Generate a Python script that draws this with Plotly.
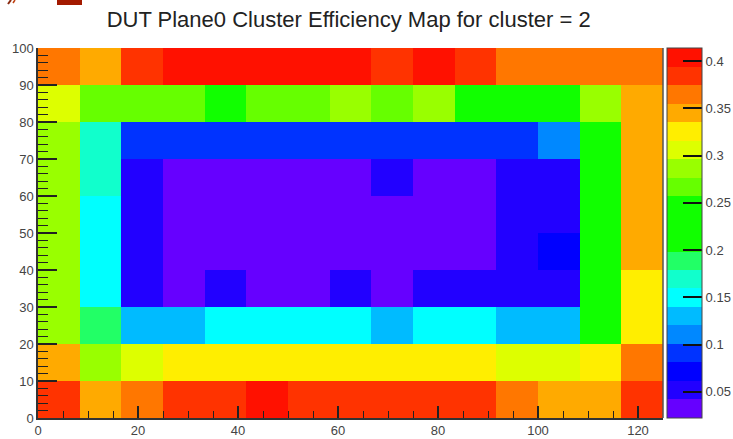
import numpy as np
import plotly.graph_objects as go

# Histogram binning
x_min, x_max, n_xbins = 0.0, 125.0, 15
y_min, y_max, n_ybins = 0.0, 100.0, 10

# Cluster efficiency per bin, rows ordered from y = 0 upward
eff = [
    [0.386, 0.345, 0.366, 0.384, 0.387, 0.4138, 0.383, 0.386, 0.385, 0.387, 0.384, 0.364, 0.347, 0.344, 0.388],
    [0.345, 0.288, 0.305, 0.327, 0.325, 0.328, 0.326, 0.324, 0.327, 0.325, 0.328, 0.307, 0.305, 0.326, 0.366],
    [0.286, 0.190, 0.131, 0.129, 0.151, 0.149, 0.152, 0.150, 0.128, 0.149, 0.151, 0.130, 0.131, 0.247, 0.327],
    [0.287, 0.150, 0.053, 0.033, 0.051, 0.031, 0.034, 0.052, 0.032, 0.053, 0.050, 0.052, 0.054, 0.248, 0.325],
    [0.288, 0.151, 0.051, 0.031, 0.032, 0.034, 0.030, 0.033, 0.031, 0.032, 0.035, 0.051, 0.072, 0.249, 0.344],
    [0.286, 0.149, 0.052, 0.033, 0.030, 0.0223, 0.031, 0.032, 0.034, 0.031, 0.033, 0.053, 0.052, 0.247, 0.346],
    [0.287, 0.170, 0.053, 0.032, 0.034, 0.031, 0.033, 0.030, 0.052, 0.033, 0.032, 0.051, 0.053, 0.248, 0.345],
    [0.288, 0.168, 0.091, 0.090, 0.092, 0.089, 0.091, 0.093, 0.090, 0.092, 0.091, 0.090, 0.111, 0.246, 0.347],
    [0.307, 0.268, 0.266, 0.269, 0.229, 0.267, 0.268, 0.286, 0.266, 0.288, 0.227, 0.229, 0.228, 0.287, 0.346],
    [0.365, 0.344, 0.384, 0.405, 0.403, 0.406, 0.404, 0.402, 0.386, 0.405, 0.384, 0.366, 0.364, 0.367, 0.365],
]

# 20-level palette, violet to red
palette = [
    "#6600ff", "#2200ff", "#0000ff", "#0033ff", "#0088ff",
    "#00bbff", "#00ffff", "#11ffcc", "#22ff66", "#11ff00",
    "#11ff00", "#11ff00", "#66ff00", "#99ff00", "#ddff00",
    "#ffee00", "#ffaa00", "#ff7700", "#ff3300", "#ff1100",
]

cbar_ticks = [0.05, 0.1, 0.15, 0.2, 0.25, 0.3, 0.35, 0.4]

x_edges = np.linspace(x_min, x_max, n_xbins + 1)
y_edges = np.linspace(y_min, y_max, n_ybins + 1)

n_lv = len(palette)
colorscale = []
for i, c in enumerate(palette):
    colorscale.append([i / n_lv, c])
    colorscale.append([(i + 1) / n_lv, c])

FONT = "Liberation Sans, Arial, Helvetica, sans-serif"

fig = go.Figure(
    go.Heatmap(
        x=x_edges,
        y=y_edges,
        z=eff,
        colorscale=colorscale,
        colorbar=dict(
            thickness=35,
            thicknessmode="pixels",
            len=1,
            lenmode="fraction",
            x=1.0065,
            xanchor="left",
            y=0.5,
            yanchor="middle",
            xpad=0,
            ypad=0,
            outlinewidth=1,
            outlinecolor="#444",
            tickvals=cbar_ticks,
            ticktext=[f"{v:g}" for v in cbar_ticks],
            ticks="inside",
            ticklen=19,
            tickwidth=1.5,
            tickcolor="#111",
            tickfont=dict(family=FONT, size=13, color="#444"),
        ),
        hoverongaps=False,
    )
)

fig.update_layout(
    width=733,
    height=439,
    margin=dict(l=38, r=70, t=48, b=21, autoexpand=False),
    paper_bgcolor="white",
    plot_bgcolor="white",
    font=dict(family=FONT, color="#222"),
    title=dict(
        text="DUT Plane0 Cluster Efficiency Map for cluster = 2",
        font=dict(family=FONT, size=22, color="#222"),
        x=0.497,
        xref="paper",
        xanchor="center",
        y=1 - 19 / 439,
        yref="container",
        yanchor="middle",
    ),
    xaxis=dict(
        range=[x_min, x_max],
        tickvals=[0, 20, 40, 60, 80, 100, 120],
        ticks="inside",
        ticklen=12,
        tickwidth=1.5,
        tickcolor="#222",
        minor=dict(dtick=5, tick0=0, ticks="inside", ticklen=7, tickwidth=1.2, tickcolor="#222"),
        showgrid=False,
        zeroline=False,
        showline=True,
        linecolor="#333",
        linewidth=1.5,
        tickfont=dict(family=FONT, size=13, color="#444"),
    ),
    yaxis=dict(
        range=[y_min, y_max],
        dtick=10,
        tick0=0,
        ticks="inside",
        ticklen=19,
        tickwidth=1.5,
        tickcolor="#222",
        minor=dict(dtick=2, tick0=0, ticks="inside", ticklen=10, tickwidth=1.2, tickcolor="#222"),
        showgrid=False,
        zeroline=False,
        showline=True,
        linecolor="#333",
        linewidth=1.5,
        tickfont=dict(family=FONT, size=13, color="#444"),
    ),
)

# right edge of the frame
fig.add_shape(type="line", xref="paper", yref="paper", x0=1, x1=1, y0=0, y1=1,
              line=dict(color="#555", width=1.5), layer="above")

# slide remnants above the canvas
def px_x(p):
    return (p - 38) / 625


def px_y(p):
    return (418 - p) / 370


fig.add_shape(type="rect", xref="paper", yref="paper",
              x0=px_x(57), x1=px_x(82), y0=px_y(5), y1=px_y(0),
              fillcolor="#a31a00", line=dict(width=0))
fig.add_shape(type="line", xref="paper", yref="paper",
              x0=px_x(8), x1=px_x(11), y0=px_y(4), y1=px_y(0),
              line=dict(color="#8a2a10", width=2))
fig.add_shape(type="line", xref="paper", yref="paper",
              x0=px_x(13), x1=px_x(15), y0=px_y(3), y1=px_y(0),
              line=dict(color="#c04010", width=1.5))

fig.write_html("out.html")
